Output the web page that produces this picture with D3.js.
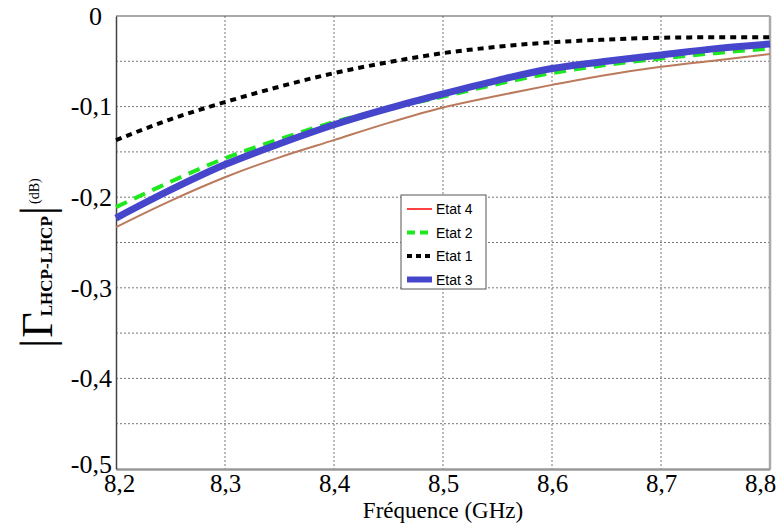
<!DOCTYPE html>
<html><head><meta charset="utf-8">
<script src="https://cdn.jsdelivr.net/npm/d3@7"></script>
<style>body{margin:0;background:#fff}svg{display:block}</style>
</head><body>
<svg id="c" width="779" height="524"></svg>
<script>
const freq = [8.2, 8.25, 8.3, 8.35, 8.4, 8.45, 8.5, 8.55, 8.6, 8.65, 8.7, 8.75, 8.8];
const etat4 = [-0.233, -0.204, -0.178, -0.156, -0.137, -0.118, -0.101, -0.088, -0.076, -0.065, -0.056, -0.049, -0.042];
const etat2 = [-0.211, -0.183, -0.157, -0.136, -0.117, -0.102, -0.089, -0.075, -0.063, -0.054, -0.047, -0.041, -0.036];
const etat1 = [-0.137, -0.114, -0.095, -0.078, -0.063, -0.051, -0.041, -0.034, -0.029, -0.026, -0.024, -0.0235, -0.0235];
const etat3 = [-0.223, -0.192, -0.164, -0.141, -0.120, -0.102, -0.086, -0.071, -0.058, -0.050, -0.043, -0.036, -0.031];
const seriesNames = ["Etat 4", "Etat 2", "Etat 1", "Etat 3"];
const xTicks = [8.2, 8.3, 8.4, 8.5, 8.6, 8.7, 8.8];
const yTicks = [0, -0.1, -0.2, -0.3, -0.4, -0.5];
const yGrid = [0, -0.05, -0.1, -0.15, -0.2, -0.25, -0.3, -0.35, -0.4, -0.45, -0.5];

const svg = d3.select("#c");
const L = 116, R = 770, T = 16, B = 469;
const SERIF = "Liberation Serif, Times New Roman, serif";
const x = d3.scaleLinear().domain([8.2, 8.8]).range([L, R]);
const y = d3.scaleLinear().domain([-0.5, 0]).range([B, T]);
const fmt = v => (v === 0 ? "0" : d3.format(".1f")(v).replace(".", ",").replace("−", "-"));

// grid
const g = svg.append("g");
g.selectAll(".vg").data(xTicks.slice(1, -1)).join("line")
  .attr("x1", d => x(d)).attr("x2", d => x(d)).attr("y1", T).attr("y2", B)
  .attr("stroke", "#777").attr("stroke-width", 1).attr("stroke-dasharray", "2,2");
g.selectAll(".hg").data(yGrid.slice(1, -1)).join("line")
  .attr("x1", L).attr("x2", R).attr("y1", d => y(d)).attr("y2", d => y(d))
  .attr("stroke", "#777").attr("stroke-width", 1).attr("stroke-dasharray", "2,2");

// frame
svg.append("line").attr("x1", L).attr("x2", R).attr("y1", T).attr("y2", T).attr("stroke", "#555").attr("stroke-width", 1.2);
svg.append("line").attr("x1", R).attr("x2", R).attr("y1", T).attr("y2", B).attr("stroke", "#aaa").attr("stroke-width", 2.5);

// axes
const xAxis = svg.append("g").attr("transform", `translate(0,${B})`)
  .call(d3.axisBottom(x).tickValues(xTicks).tickFormat(d => d3.format(".1f")(d).replace(".", ",")).tickSize(0).tickPadding(5));
xAxis.select(".domain").attr("stroke", "#999").attr("stroke-width", 2.5);
xAxis.selectAll("text").attr("font-family", SERIF).attr("font-size", 25).attr("fill", "#000");
xAxis.selectAll(".tick").filter(d => d === 8.8).select("text").attr("dx", -10);
xAxis.selectAll(".tick").filter(d => d === 8.2).select("text").attr("dx", 3);

const yAxis = svg.append("g").attr("transform", `translate(${L},0)`)
  .call(d3.axisLeft(y).tickValues(yTicks).tickFormat(fmt).tickSize(0).tickPadding(4));
yAxis.select(".domain").attr("stroke", "#444").attr("stroke-width", 1.5);
yAxis.selectAll("text").attr("font-family", SERIF).attr("font-size", 26).attr("fill", "#000");
yAxis.selectAll(".tick").filter(d => d === 0).select("text").attr("dx", -10);
yAxis.selectAll(".tick").filter(d => d === -0.5).select("text").attr("dy", "0.12em");

// lines
const styles = [
  {data: etat4, color: "#bb7a5c", w: 2, dash: null, lc: "#ff0000", lw: 1.5, ldash: null},
  {data: etat2, color: "#1ee81e", w: 4, dash: "12,8", lc: "#1ee81e", lw: 4, ldash: "8,5"},
  {data: etat1, color: "#000", w: 4, dash: "6,5", lc: "#000", lw: 4, ldash: "5,4"},
  {data: etat3, color: "#4646cc", w: 7, dash: null, lc: "#4646cc", lw: 6, ldash: null}
];
const line = d3.line().x((d, i) => x(freq[i])).y(d => y(d)).curve(d3.curveMonotoneX);
styles.forEach(s => {
  svg.append("path").attr("d", line(s.data)).attr("fill", "none")
    .attr("stroke", s.color).attr("stroke-width", s.w)
    .attr("stroke-dasharray", s.dash);
});

// legend
const lg = svg.append("g");
lg.append("rect").attr("x", 401).attr("y", 195).attr("width", 85).attr("height", 94)
  .attr("fill", "#fff").attr("stroke", "#555").attr("stroke-width", 1);
styles.forEach((s, i) => {
  const yy = 209 + i * 23.5;
  lg.append("line").attr("x1", 407).attr("x2", 432).attr("y1", yy).attr("y2", yy)
    .attr("stroke", s.lc).attr("stroke-width", s.lw).attr("stroke-dasharray", s.ldash);
  lg.append("text").attr("x", 436).attr("y", yy).attr("dy", "0.36em")
    .attr("font-family", "Liberation Sans, Arial, sans-serif").attr("font-size", 14)
    .text(seriesNames[i]);
});

// x label
svg.append("text").attr("x", 443).attr("y", 518).attr("text-anchor", "middle")
  .attr("font-family", SERIF).attr("font-size", 23)
  .text("Fréquence (GHz)");

// y label
const yl = svg.append("text").attr("transform", "translate(52,348) rotate(-90)")
  .attr("font-family", SERIF);
yl.append("tspan").attr("font-size", 46).text("|");
yl.append("tspan").attr("font-size", 44).attr("dx", 1).text("Γ");
yl.append("tspan").attr("font-size", 17).attr("font-weight", "bold").attr("dx", -4).text("LHCP-LHCP");
yl.append("tspan").attr("font-size", 46).attr("dx", 1).text("|");
yl.append("tspan").attr("font-size", 14).attr("dy", -13).attr("dx", 2).text("(dB)");
</script>
</body></html>
